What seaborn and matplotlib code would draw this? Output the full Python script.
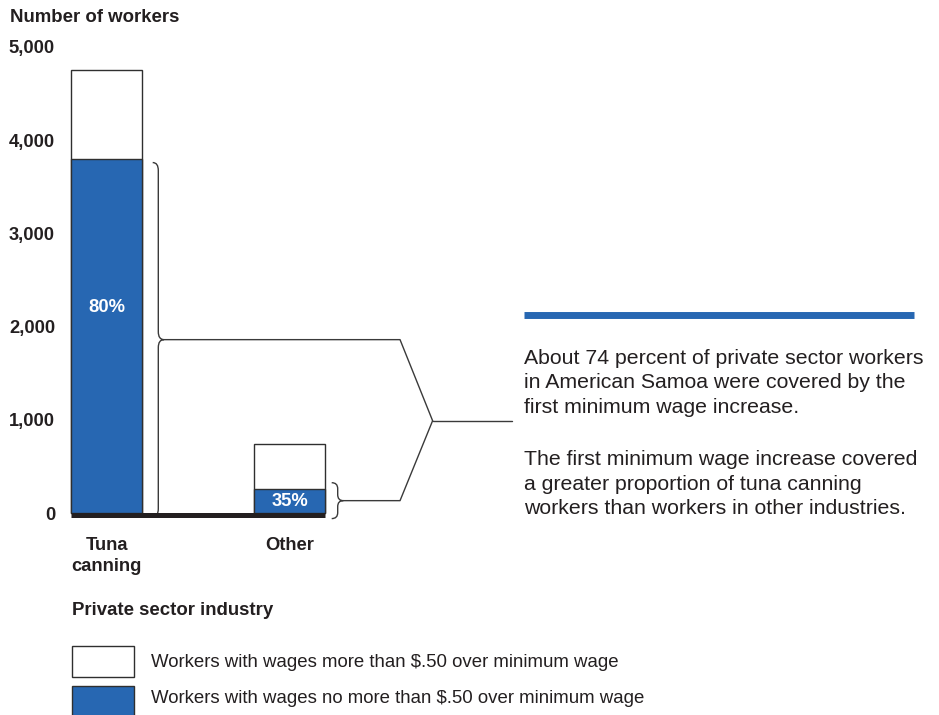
import matplotlib
matplotlib.use("Agg")
import matplotlib.pyplot as plt
from matplotlib.path import Path
from matplotlib.patches import PathPatch, Rectangle
from matplotlib.lines import Line2D
import pandas as pd
import seaborn as sns

# Workers by private sector industry
industries = ["Tuna\ncanning", "Other"]
total_workers = [4750, 740]
covered_workers = [3800, 260]
y_ticks = [0, 1000, 2000, 3000, 4000, 5000]

legend_labels = [
    "Workers with wages more than $.50 over minimum wage",
    "Workers with wages no more than $.50 over minimum wage",
]
note_first = [
    "About 74 percent of private sector workers",
    "in American Samoa were covered by the",
    "first minimum wage increase.",
]
note_second = [
    "The first minimum wage increase covered",
    "a greater proportion of tuna canning",
    "workers than workers in other industries.",
]

BLUE = "#2767b2"
INK = "#231f20"
EDGE = "#2f2f2f"
LINE = "#3a3a3a"

sns.set_style("white")
plt.rcParams["font.family"] = ["Liberation Sans", "DejaVu Sans"]

W, H = 939, 715
fig = plt.figure(figsize=(W / 100, H / 100), dpi=100)


def fx(px):
    return px / W


def fy(py):
    return 1 - py / H


ax = fig.add_axes([fx(71), fy(513), (325 - 71) / W, (513 - 47) / H])
ax.patch.set_visible(False)
bar_w = 71 / 183

df = pd.DataFrame({"industry": industries, "total": total_workers,
                   "covered": covered_workers})
common = dict(data=df, x="industry", width=bar_w, saturation=1,
              errorbar=None, edgecolor=EDGE, linewidth=1.0, ax=ax)
sns.barplot(y="total", color="white", **common)
sns.barplot(y="covered", color=BLUE, **common)
for p in ax.patches:
    p.set_clip_on(False)

ax.set_xlim(-bar_w / 2, 1 + bar_w / 2)
ax.set_ylim(0, 5000)
sns.despine(ax=ax, left=True, bottom=True)
ax.set_xlabel("")
ax.set_ylabel("")

ax.set_yticks(y_ticks)
ax.set_yticklabels([f"{v:,}" for v in y_ticks])
ax.tick_params(axis="y", length=0, pad=11.5, labelsize=13.2, labelcolor=INK)
ax.tick_params(axis="x", length=0, pad=17.5, labelsize=13.2, labelcolor=INK)
for lab in ax.get_yticklabels() + ax.get_xticklabels():
    lab.set_fontweight("bold")
    lab.set_linespacing(1.27)

# thick baseline under the bars
ax.plot([-bar_w / 2, 1 + bar_w / 2], [-25, -25], color=INK, lw=3.6,
        solid_capstyle="butt", clip_on=False, zorder=5)

# share of covered workers inside the blue segments
label_y = [2210, 125]
for i, (t, c) in enumerate(zip(total_workers, covered_workers)):
    ax.text(i, label_y[i], f"{round(100 * c / t)}%", ha="center", va="center",
            color="white", fontsize=13.2, fontweight="bold", zorder=6)


def brace(x0, lo, hi, hook, depth, r):
    mid = (lo + hi) / 2
    x1 = x0 + hook
    x2 = x1 + depth
    verts = [(x0, hi), (x1, hi), (x1, hi - r),
             (x1, mid + r), (x1, mid), (x2, mid),
             (x1, mid), (x1, mid - r),
             (x1, lo + r), (x1, lo), (x0, lo)]
    codes = [Path.MOVETO, Path.CURVE3, Path.CURVE3,
             Path.LINETO, Path.CURVE3, Path.CURVE3,
             Path.CURVE3, Path.CURVE3,
             Path.LINETO, Path.CURVE3, Path.CURVE3]
    ax.add_patch(PathPatch(Path(verts, codes), fill=False, edgecolor=LINE,
                           lw=1.0, clip_on=False))
    return x2, mid


unit = 1 / 183  # x-axis units per pixel
tuna_tip = brace(bar_w / 2 + 10.7 * unit, -40, 3760, 5.6 * unit, 5.7 * unit, 85)
other_tip = brace(1 + bar_w / 2 + 6.7 * unit, -60, 325, 6 * unit, 5.6 * unit, 64)

elbow_x, join_x, out_x, join_y = 1.604, 1.782, 2.214, 990
for tx, ty in (tuna_tip, other_tip):
    ax.plot([tx, elbow_x, join_x], [ty, ty, join_y], color=LINE, lw=1.0,
            clip_on=False)
ax.plot([join_x, out_x], [join_y, join_y], color=LINE, lw=1.0, clip_on=False)

# annotation panel on the right
fig.add_artist(Line2D([fx(524), fx(914)], [fy(315.5), fy(315.5)], lw=5,
                      color=BLUE, solid_capstyle="butt",
                      transform=fig.transFigure))
for block, top in ((note_first, 364), (note_second, 465)):
    for k, line in enumerate(block):
        fig.text(fx(524), fy(top + 24.5 * k), line, va="baseline", ha="left",
                 fontsize=15.35, color=INK)

fig.text(fx(10), fy(22.5), "Number of workers", fontsize=13.4,
         fontweight="bold", color=INK, va="baseline")
fig.text(fx(72), fy(615), "Private sector industry", fontsize=13.4,
         fontweight="bold", color=INK, va="baseline")

# legend
for (top, face, base), label in zip(((646, "white", 667), (686, BLUE, 703)),
                                    legend_labels):
    fig.add_artist(Rectangle((fx(72), fy(top + 31)), 62 / W, 31 / H,
                             facecolor=face, edgecolor=EDGE, lw=1.0,
                             transform=fig.transFigure))
    fig.text(fx(151), fy(base), label, va="baseline", ha="left",
             fontsize=13.4, color=INK)

fig.savefig("out.png", dpi=100)
